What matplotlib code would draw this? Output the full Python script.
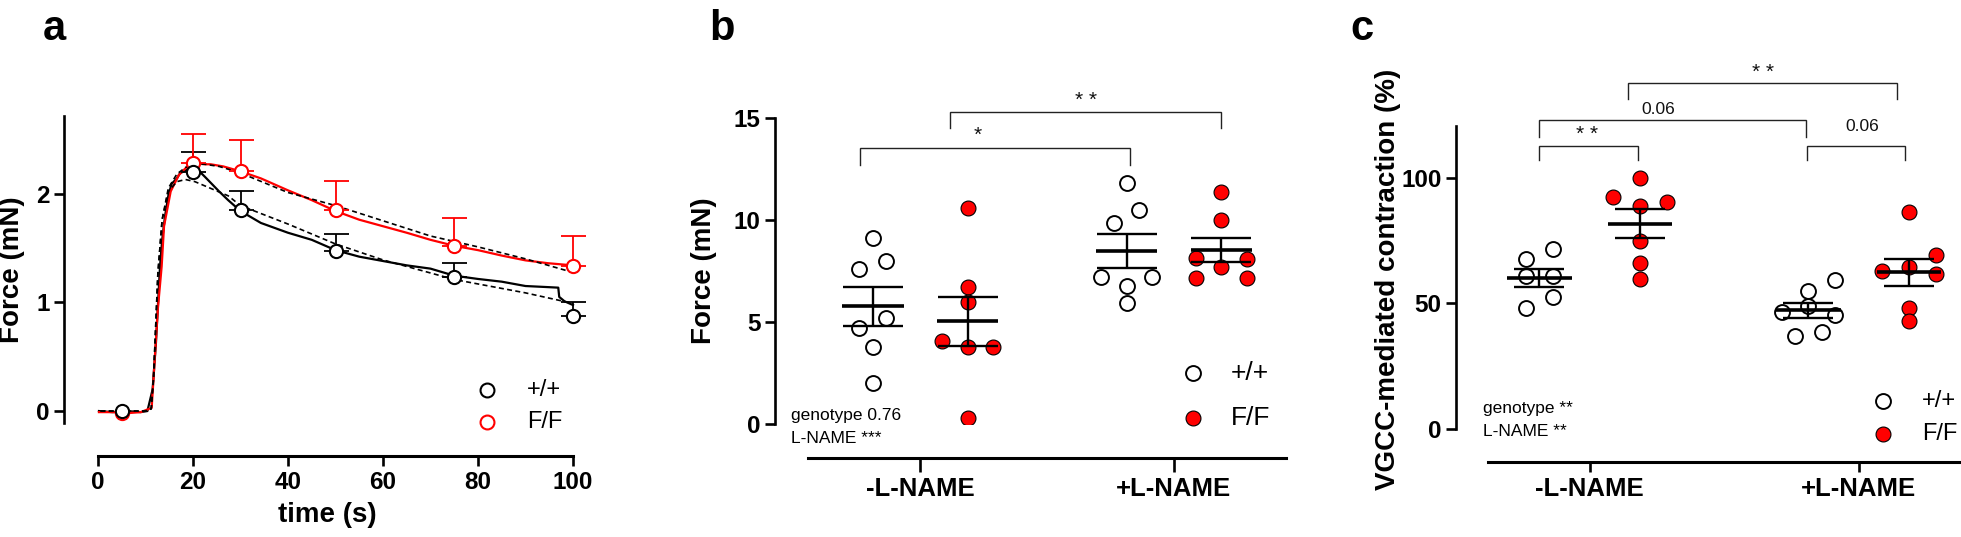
import numpy as np
import matplotlib
matplotlib.use("Agg")
import matplotlib.pyplot as plt

plt.rcParams['font.family'] = ['Liberation Sans', 'DejaVu Sans']

W, H = 1961, 537

# ---- panel a: force traces over time ----
time_pts = [5, 20, 30, 50, 75, 100]
wt_mean = [0.0, 2.195, 1.85, 1.475, 1.235, 0.875]
wt_err = [0.0, 0.185, 0.17, 0.155, 0.125, 0.125]
ff_mean = [-0.015, 2.28, 2.205, 1.85, 1.52, 1.33]
ff_err = [0.0, 0.27, 0.285, 0.27, 0.26, 0.28]

wt_trace_t = [0.2, 3, 6, 9, 10.4, 11.5, 12.2, 13.05, 13.5, 14.1, 14.8, 15.5, 16.6, 17.3, 18.4,
              19.7, 21, 22.5, 25.5, 27.4, 30, 34.3, 40, 45, 50, 55, 60, 65, 70, 75, 80, 85,
              90, 94.7, 96.9, 97.1, 98.2, 100]
wt_trace_f = [0.0, -0.01, 0.0, -0.01, 0.0, 0.2, 0.63, 1.33, 1.57, 1.79, 1.98, 2.09, 2.14, 2.19, 2.21,
              2.245, 2.22, 2.155, 2.02, 1.94, 1.84, 1.73, 1.64, 1.575, 1.48, 1.42, 1.38, 1.34,
              1.31, 1.245, 1.215, 1.19, 1.15, 1.14, 1.135, 1.05, 1.01, 0.975]
ff_trace_t = [0.2, 3, 6, 9, 11.3, 12.6, 13.4, 13.9, 15.3, 17, 18.8, 21, 22.5, 23.7, 26.4, 30,
              34.3, 40, 45, 50, 55, 60, 65, 70, 75, 80, 85, 90, 94.7, 100]
ff_trace_f = [-0.01, -0.01, -0.02, -0.01, 0.03, 0.94, 1.33, 1.70, 2.02, 2.17, 2.25, 2.28, 2.27,
              2.27, 2.25, 2.205, 2.14, 2.03, 1.94, 1.84, 1.76, 1.70, 1.64, 1.575, 1.52, 1.48,
              1.43, 1.386, 1.36, 1.34]
fit_wt_t = [0.5, 5, 10, 11.2, 11.7, 12.6, 13.5, 14.8, 16.6, 18.4, 20.4, 27.4, 30, 40, 50, 60,
            75, 90, 100]
fit_wt_f = [0, 0, 0, 0.02, 0.31, 1.26, 1.76, 2.02, 2.11, 2.13, 2.11, 1.98, 1.89, 1.72, 1.537,
            1.39, 1.21, 1.087, 0.99]
fit_ff_t = [0.5, 5, 10, 11.2, 11.7, 12.6, 13.5, 14.8, 16.6, 18.4, 20.4, 22.5, 25.5, 30, 40,
            50, 60, 70, 75, 80, 90, 100]
fit_ff_f = [0, 0, 0, 0.02, 0.31, 1.26, 1.76, 2.05, 2.18, 2.24, 2.27, 2.27, 2.25, 2.19, 2.01,
            1.89, 1.75, 1.61, 1.56, 1.51, 1.40, 1.275]

# ---- panel b: force (mN) ----
categories = ["-L-NAME", "+L-NAME"]
b_wt_minus = [9.11, 7.99, 7.60, 5.20, 4.69, 3.78, 2.00]
b_ff_minus = [10.58, 6.71, 6.00, 4.07, 3.78, 3.78, 0.29]
b_wt_plus = [11.80, 10.51, 9.87, 7.21, 7.21, 6.76, 5.92]
b_ff_plus = [11.38, 9.99, 8.16, 8.07, 7.68, 7.18, 7.18]

# ---- panel c: VGCC-mediated contraction (%) ----
c_wt_minus = [71.4, 67.5, 61.0, 61.0, 52.4, 48.0]
c_ff_minus = [100.0, 92.2, 90.2, 88.8, 74.6, 66.0, 59.6]
c_wt_plus = [59.2, 54.8, 49.0, 46.7, 45.3, 38.5, 36.9]
c_ff_plus = [86.4, 69.1, 64.4, 63.0, 61.6, 48.3, 42.9]

# horizontal scatter within groups (layout only)
jit_b = [[0, .053, -.055, .053, -.055, 0, 0], [0, 0, 0, -.1, 0, .1, 0],
         [0, .05, -.05, -.1, .1, 0, 0], [0, 0, -.1, .1, 0, -.1, .1]]
jit_c = [[.049, -.049, -.049, .049, .049, -.049], [0, -.1, .1, 0, 0, 0, 0],
         [.1, 0, 0, -.1, .1, .05, -.05], [0, .1, 0, -.1, .1, 0, 0]]

LW = 1.9
RED = '#ff0000'

fig = plt.figure(figsize=(W / 100, H / 100), dpi=100)


def px_axes(left, top, right, bottom):
    return fig.add_axes([left / W, 1 - bottom / H, (right - left) / W, (bottom - top) / H])


def style_axes(ax, xoff_px):
    for s in ['top', 'right']:
        ax.spines[s].set_visible(False)
    ax.spines['left'].set_linewidth(LW)
    ax.spines['bottom'].set_linewidth(LW + 0.3)
    ax.spines['bottom'].set_position(('outward', xoff_px * 0.72))
    ax.tick_params(width=LW, length=7, labelsize=17.5)
    for t in ax.get_xticklabels() + ax.get_yticklabels():
        t.set_fontweight('bold')


def bracket(ax, x0, x1, ytop, ybot, label, ty, fs):
    ax.plot([x0, x0, x1, x1], [ybot, ytop, ytop, ybot], color='#222222', lw=1.0,
            clip_on=False, solid_joinstyle='miter')
    ax.text(label[1], ty, label[0], ha='center', va='center', fontsize=fs, color='#111111')


# ================= panel a =================
axa = px_axes(64, 116, 590, 423)
axa.plot(fit_ff_t, fit_ff_f, color='black', lw=1.2, ls=(0, (3, 2)), zorder=3)
axa.plot(wt_trace_t, wt_trace_f, color='black', lw=1.6, zorder=2)
axa.plot(ff_trace_t, ff_trace_f, color=RED, lw=1.6, zorder=2)
axa.plot(fit_wt_t, fit_wt_f, color='black', lw=1.2, ls=(0, (3, 2)), zorder=3)
axa.errorbar(time_pts[1:], wt_mean[1:], yerr=[np.zeros(5), wt_err[1:]], fmt='none',
             ecolor='black', elinewidth=1.3, capsize=9, capthick=1.3, zorder=4)
axa.errorbar(time_pts[1:], ff_mean[1:], yerr=[np.zeros(5), ff_err[1:]], fmt='none',
             ecolor=RED, elinewidth=1.3, capsize=9, capthick=1.3, zorder=4)
axa.plot(time_pts, ff_mean, 'o', ms=9.5, mfc='white', mec=RED, mew=1.5, zorder=5, clip_on=False)
axa.plot(time_pts, wt_mean, 'o', ms=9.5, mfc='white', mec='black', mew=1.5, zorder=6, clip_on=False)
axa.set_xlim(-7.16, 103.58)
axa.set_ylim(-0.11, 2.714)
axa.set_xticks([0, 20, 40, 60, 80, 100])
axa.set_yticks([0, 1, 2])
style_axes(axa, 33)
axa.spines['bottom'].set_bounds(0, 100)
axa.set_xlabel('time (s)', fontsize=20, fontweight='bold', labelpad=6)
# legend
axa.plot([81.9], [0.193], 'o', ms=10, mfc='white', mec='black', mew=1.5, clip_on=False)
axa.plot([81.9], [-0.101], 'o', ms=10, mfc='white', mec=RED, mew=1.5, clip_on=False)
axa.text(90.3, 0.193, '+/+', fontsize=17, va='center', ha='left')
axa.text(90.3, -0.101, 'F/F', fontsize=17, va='center', ha='left')


def scatter_panel(ax, groups, jits, off, halfw, capw):
    for gi, vals in enumerate(groups):
        cat = gi // 2
        x0 = cat + (off if gi % 2 else -off)
        vals = np.array(vals)
        xs = x0 + np.array(jits[gi])
        if gi % 2:
            ax.scatter(xs, vals, s=115, c=RED, edgecolors='black', linewidths=0.8, zorder=3)
        else:
            ax.scatter(xs, vals, s=115, c='white', edgecolors='black', linewidths=1.4, zorder=3)
        m = vals.mean()
        sem = vals.std(ddof=1) / np.sqrt(len(vals))
        ax.errorbar([x0], [m], yerr=[sem], fmt='none', ecolor='black', elinewidth=1.7,
                    capsize=capw, capthick=1.7, zorder=4)
        ax.hlines(m, x0 - halfw, x0 + halfw, color='black', lw=2.6, zorder=5)


# ================= panel b =================
axb = px_axes(775, 118, 1286, 424)
scatter_panel(axb, [b_wt_minus, b_ff_minus, b_wt_plus, b_ff_plus], jit_b, 0.187, 0.122, 21.6)
axb.set_xlim(-0.571, 1.441)
axb.set_ylim(0, 15)
axb.set_yticks([0, 5, 10, 15])
axb.set_xticks([0, 1])
axb.set_xticklabels(categories)
style_axes(axb, 34)
axb.tick_params(axis='x', length=10)
for t in axb.get_xticklabels():
    t.set_fontsize(18.5)
axb.spines['bottom'].set_bounds(-0.441, 1.441)
bracket(axb, -0.236, 0.827, 13.51, 12.70, ('*', 0.227), 14.17, 15)
bracket(axb, 0.118, 1.185, 15.31, 14.50, ('* *', 0.654), 15.88, 15)
axb.text(-0.509, 0.44, 'genotype 0.76', fontsize=12.5, va='center', ha='left')
axb.text(-0.509, -0.69, 'L-NAME ***', fontsize=12.5, va='center', ha='left')
axb.scatter([1.073], [2.52], s=115, c='white', edgecolors='black', linewidths=1.4, clip_on=False)
axb.scatter([1.073], [0.29], s=115, c=RED, edgecolors='black', linewidths=0.8, clip_on=False)
axb.text(1.224, 2.52, '+/+', fontsize=19, va='center', ha='left')
axb.text(1.224, 0.29, 'F/F', fontsize=19, va='center', ha='left')

# ================= panel c =================
axc = px_axes(1456, 126, 1961, 429)
scatter_panel(axc, [c_wt_minus, c_ff_minus, c_wt_plus, c_ff_plus], jit_c, 0.187, 0.12, 18)
axc.set_xlim(-0.497, 1.38)
axc.set_ylim(0, 120.5)
axc.set_yticks([0, 50, 100])
axc.set_xticks([0, 1])
axc.set_xticklabels(categories)
style_axes(axc, 33)
for t in axc.get_xticklabels():
    t.set_fontsize(18.5)
axc.spines['bottom'].set_bounds(-0.379, 1.38)
bracket(axc, -0.188, 0.178, 112.6, 107.0, ('* *', -0.011), 117.3, 15)
bracket(axc, -0.188, 0.804, 122.9, 116.3, ('0.06', 0.254), 127.2, 12.5)
bracket(axc, 0.807, 1.172, 112.6, 107.0, ('0.06', 1.014), 120.2, 12.5)
bracket(axc, 0.144, 1.142, 137.5, 131.1, ('* *', 0.643), 141.7, 15)
axc.text(-0.398, 7.96, 'genotype **', fontsize=12.5, va='center', ha='left')
axc.text(-0.398, -1.19, 'L-NAME **', fontsize=12.5, va='center', ha='left')
axc.scatter([1.091], [11.1], s=115, c='white', edgecolors='black', linewidths=1.4, clip_on=False)
axc.scatter([1.091], [-2.0], s=115, c=RED, edgecolors='black', linewidths=0.8, clip_on=False)
axc.text(1.236, 11.1, '+/+', fontsize=17, va='center', ha='left')
axc.text(1.236, -2.0, 'F/F', fontsize=17, va='center', ha='left')

# y labels and panel letters
for x, y, s in [(12.5, 270, 'Force (mN)'), (704, 270.5, 'Force (mN)'),
                (1388, 279, 'VGCC-mediated contraction (%)')]:
    fig.text(x / W, 1 - y / H, s, rotation=90, ha='center', va='center',
             fontsize=20, fontweight='bold')
for x, s in [(43, 'a'), (709, 'b'), (1350, 'c')]:
    fig.text(x / W, 1 - 40 / H, s, ha='left', va='baseline', fontsize=30, fontweight='bold')

fig.savefig('out.png', dpi=100)
